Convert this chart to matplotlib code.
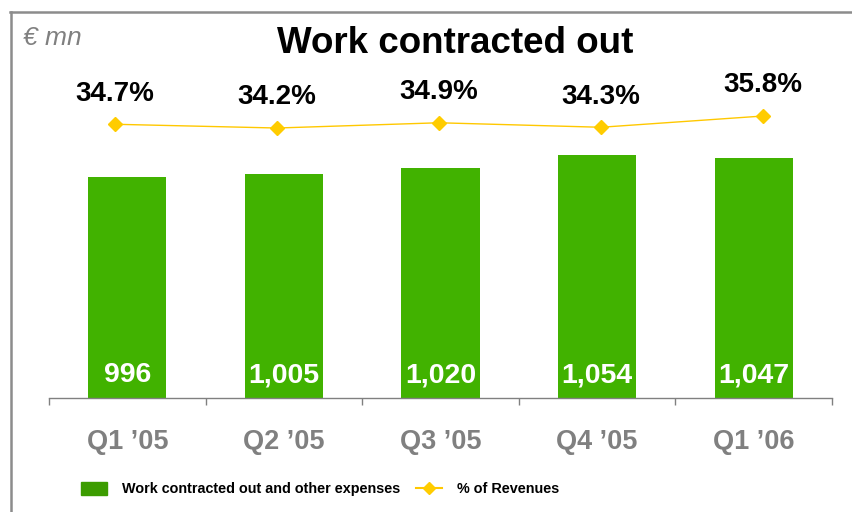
import matplotlib.pyplot as plt
from matplotlib.lines import Line2D
from matplotlib.patches import Patch

quarters = ['Q1 \u201905', 'Q2 \u201905', 'Q3 \u201905', 'Q4 \u201905', 'Q1 \u201906']
work_out = [996, 1005, 1020, 1054, 1047]
pct_rev = [34.7, 34.2, 34.9, 34.3, 35.8]

GREEN = '#41b200'
GOLD = '#ffc800'
GREY = '#808080'


def main():
    plt.rcParams['font.family'] = ['Liberation Sans', 'DejaVu Sans']
    fig = plt.figure(figsize=(8.52, 5.12), dpi=100)
    W, H = 852, 512
    ax = fig.add_axes([49 / W, 1 - 398 / H, 783 / W, 338 / H])

    x = range(len(quarters))
    ax.bar(x, work_out, width=0.5, color=GREEN, zorder=2)
    ax.set_xlim(-0.5, len(quarters) - 0.5)
    ax.set_ylim(413.4, 1304.5)

    # value labels inside the bars, near the bottom
    for i, v in enumerate(work_out):
        ax.annotate(f'{v:,}', xy=(i, 413.4), xytext=(0, 11.5), textcoords='offset points',
                    ha='center', va='baseline', color='white', fontsize=20.5, fontweight='bold')

    for s in ['left', 'right', 'top']:
        ax.spines[s].set_visible(False)
    ax.spines['bottom'].set_color(GREY)
    ax.spines['bottom'].set_linewidth(1)
    ax.set_yticks([])
    # boundary ticks + centred labels
    ax.set_xticks([i - 0.5 for i in range(len(quarters) + 1)])
    ax.set_xticklabels([])
    ax.tick_params(axis='x', which='major', length=5, width=1, color=GREY, direction='out')
    ax.set_xticks(list(x), minor=True)
    ax.set_xticklabels(quarters, minor=True, fontsize=19.5, fontweight='bold', color=GREY)
    ax.tick_params(axis='x', which='minor', length=0, pad=22)

    # the % line sits on its own, slightly wider, category scale
    ax2 = fig.add_axes(ax.get_position(), frameon=False)
    ax2.set_xlim(-0.407, 4.426)
    ax2.set_ylim(-1.8, 43.27)
    ax2.plot(x, pct_rev, color=GOLD, lw=1, marker='D', markersize=7,
             markerfacecolor='#ffcc00', markeredgecolor='#ffcc00', zorder=3)
    for i, p in enumerate(pct_rev):
        ax2.annotate(f'{p}%', xy=(i, p), xytext=(0, 17), textcoords='offset points',
                     ha='center', va='baseline', fontsize=20, fontweight='bold', color='black')
    ax2.axis('off')

    fig.text(455 / W, 1 - 53 / H, 'Work contracted out', ha='center', va='baseline',
             fontsize=26.5, fontweight='bold')
    fig.text(23 / W, 1 - 45 / H, '\u20ac mn', ha='left', va='baseline',
             fontsize=19, style='italic', color=GREY)

    handles = [Patch(color='#3c9c00'),
               Line2D([], [], color=GOLD, lw=1.5, marker='D', markersize=6,
                      markerfacecolor='#ffcc00', markeredgecolor='#ffcc00')]
    fig.legend(handles, ['Work contracted out and other expenses', '% of Revenues'],
               loc='center', bbox_to_anchor=(320 / W, 1 - 489 / H), ncol=2, frameon=False,
               prop={'weight': 'bold', 'size': 10.4},
               handlelength=1.8, handleheight=1.0, handletextpad=1.05, columnspacing=1.1)

    # grey frame (top and left edges)
    fig.add_artist(Line2D([10 / W, 1], [1 - 11.5 / H] * 2, color='#8c8c8c', lw=1.8))
    fig.add_artist(Line2D([10.5 / W] * 2, [0, 1 - 11.5 / H], color='#8c8c8c', lw=1.8))

    fig.savefig('out.png', dpi=100)


if __name__ == '__main__':
    main()
